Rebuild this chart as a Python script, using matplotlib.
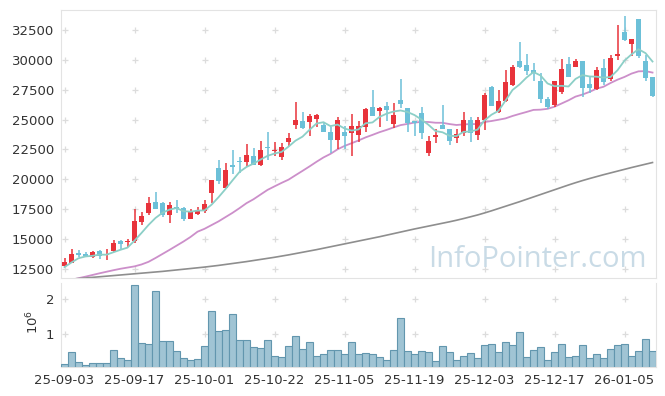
import matplotlib
matplotlib.use('Agg')
import matplotlib.pyplot as plt
import numpy as np

# trading days 25-09-03 .. 26-01-09
dates = ['25-09-03', '25-09-04', '25-09-05', '25-09-08', '25-09-09', '25-09-10', '25-09-11', '25-09-12',
         '25-09-15', '25-09-16', '25-09-17', '25-09-18', '25-09-19', '25-09-22', '25-09-23', '25-09-24',
         '25-09-25', '25-09-26', '25-09-29', '25-09-30', '25-10-01', '25-10-02', '25-10-10', '25-10-13',
         '25-10-14', '25-10-15', '25-10-16', '25-10-17', '25-10-20', '25-10-21', '25-10-22', '25-10-23',
         '25-10-24', '25-10-27', '25-10-28', '25-10-29', '25-10-30', '25-10-31', '25-11-03', '25-11-04',
         '25-11-05', '25-11-06', '25-11-07', '25-11-10', '25-11-11', '25-11-12', '25-11-13', '25-11-14',
         '25-11-17', '25-11-18', '25-11-19', '25-11-20', '25-11-21', '25-11-24', '25-11-25', '25-11-26',
         '25-11-27', '25-11-28', '25-12-01', '25-12-02', '25-12-03', '25-12-04', '25-12-05', '25-12-08',
         '25-12-09', '25-12-10', '25-12-11', '25-12-12', '25-12-15', '25-12-16', '25-12-17', '25-12-18',
         '25-12-19', '25-12-22', '25-12-23', '25-12-24', '25-12-26', '25-12-29', '25-12-30', '26-01-02',
         '26-01-05', '26-01-06', '26-01-07', '26-01-08', '26-01-09']

opens = [12750, 13030, 13850, 13750, 13500, 14000, 13650, 14000, 14870, 14730,
         14870, 16460, 17210, 18100, 18050, 17020, 17660, 17600, 16710, 17080,
         17330, 18830, 20950, 19300, 21200, 21560, 21450, 21920, 21230, 22710,
         22380, 21900, 23130, 24575, 24910, 24830, 25080, 24550, 23940, 23320,
         23960, 23900, 23740, 24410, 26060, 25750, 26140, 24660, 26640, 25970,
         24890, 25550, 22230, 23570, 24550, 24220, 23490, 23860, 24970, 23690,
         24970, 27730, 25670, 26580, 27900, 29900, 29570, 29130, 28230, 26730,
         26220, 27340, 29650, 29430, 29900, 27980, 27560, 29320, 28370, 30350,
         32330, 31350, 33420, 29930, 28570]
highs = [13400, 14170, 14070, 13920, 14000, 14090, 14200, 14930, 14900, 14980,
         17500, 17270, 18500, 18920, 18080, 18080, 18280, 17650, 17550, 17660,
         18280, 19980, 21620, 21370, 22430, 21870, 22930, 22650, 23190, 23940,
         23100, 23020, 23860, 26450, 25610, 25470, 25470, 24700, 24410, 25190,
         24470, 25470, 24890, 26000, 27480, 26080, 26500, 26360, 28400, 26000,
         24900, 26080, 23600, 24190, 26220, 24250, 24220, 25640, 25190, 25190,
         27200, 27810, 27480, 29130, 29570, 31470, 30490, 29740, 28880, 26870,
         28260, 30050, 30240, 30070, 29930, 28650, 29430, 30100, 30440, 32920,
         33670, 31770, 33430, 30440, 28600]
lows = [12640, 12980, 13500, 13480, 13450, 13310, 13250, 13950, 14050, 14370,
        14650, 16150, 16990, 17500, 16880, 16380, 17210, 16490, 16700, 17020,
        17160, 18050, 19590, 19250, 20480, 20560, 21010, 21200, 21120, 21600,
        21950, 21620, 22820, 24190, 24190, 23630, 24360, 23990, 22180, 22520,
        22570, 21960, 23150, 23960, 25300, 24360, 24910, 24320, 26000, 23940,
        23600, 23400, 21980, 23020, 24190, 22850, 23040, 23600, 23130, 23300,
        24130, 26170, 25530, 26500, 27850, 29350, 28730, 28200, 26420, 25890,
        26030, 27120, 28560, 29370, 26870, 27250, 27500, 27900, 28260, 29990,
        31580, 30320, 30160, 28230, 26920]
closes = [13090, 13750, 13650, 13600, 13920, 13590, 13730, 14680, 14620, 14820,
          16520, 16940, 18020, 17550, 17000, 17850, 17580, 16710, 17350, 17440,
          17940, 19950, 19840, 20780, 21060, 21480, 22040, 21230, 22460, 22620,
          22460, 22710, 23440, 24970, 24300, 25300, 25360, 23990, 23320, 24970,
          23660, 24470, 24470, 25890, 25330, 25970, 25810, 25390, 26330, 24690,
          24690, 23910, 23210, 23710, 24190, 23210, 23800, 24970, 23860, 24970,
          27090, 26170, 26580, 28150, 29400, 29400, 29070, 28880, 26730, 26060,
          28230, 29240, 28590, 29900, 27680, 27650, 29150, 28180, 30160, 30520,
          31690, 31750, 30350, 28510, 27010]
volumes = [160000, 490000, 210000, 130000, 190000, 190000, 190000, 570000, 330000, 270000,
           2370000, 750000, 720000, 2220000, 810000, 810000, 530000, 330000, 270000, 300000,
           670000, 1660000, 1090000, 1120000, 1570000, 840000, 840000, 640000, 610000, 840000,
           390000, 360000, 670000, 950000, 580000, 780000, 390000, 440000, 550000, 550000,
           440000, 780000, 440000, 470000, 440000, 360000, 270000, 550000, 1460000, 520000,
           440000, 520000, 500000, 240000, 670000, 500000, 270000, 390000, 470000, 330000,
           700000, 720000, 500000, 780000, 700000, 1060000, 360000, 550000, 640000, 270000,
           500000, 720000, 360000, 390000, 700000, 330000, 440000, 330000, 580000, 700000,
           720000, 390000, 520000, 860000, 520000]

# moving averages
ma5 = [12660, 13050, 13400, 13550, 13602, 13702, 13698, 13904, 14108, 14288,
       14874, 15516, 16184, 16770, 17206, 17472, 17600, 17338, 17298, 17386,
       17404, 17878, 18504, 19190, 19914, 20622, 21040, 21318, 21654, 21966,
       22162, 22296, 22738, 23240, 23576, 24144, 24674, 24784, 24454, 24588,
       24260, 24082, 24178, 24692, 24764, 25226, 25494, 25678, 25766, 25638,
       25382, 25002, 24566, 24042, 23942, 23646, 23624, 23976, 24006, 24162,
       24938, 25412, 25734, 26592, 27478, 27940, 28520, 28980, 28696, 28028,
       27794, 27828, 27770, 28404, 28728, 28612, 28594, 28512, 28564, 29132,
       29940, 30460, 30894, 30564, 29862]
ma20 = [11450, 11600, 11730, 11860, 12000, 12140, 12270, 12400, 12520, 12620,
        12720, 12880, 13100, 13420, 13760, 14100, 14450, 14800, 15180, 15620,
        15863, 16173, 16483, 16842, 17199, 17593, 18009, 18336, 18728, 19118,
        19415, 19704, 19975, 20346, 20711, 21083, 21472, 21836, 22135, 22511,
        22797, 23023, 23255, 23510, 23724, 23948, 24137, 24345, 24538, 24642,
        24753, 24813, 24802, 24739, 24733, 24629, 24551, 24600, 24627, 24627,
        24798, 24883, 24989, 25102, 25305, 25477, 25640, 25814, 25834, 25903,
        26080, 26346, 26615, 26925, 27099, 27321, 27589, 27749, 28064, 28342,
        28572, 28851, 29039, 29057, 28938]
ma120 = [11600, 11650, 11700, 11750, 11800, 11850, 11900, 11950, 12000, 12050,
         12100, 12150, 12200, 12250, 12300, 12360, 12420, 12480, 12540, 12600,
         12660, 12730, 12800, 12880, 12960, 13040, 13120, 13210, 13300, 13390,
         13480, 13580, 13680, 13790, 13900, 14010, 14120, 14240, 14360, 14480,
         14600, 14720, 14840, 14960, 15080, 15200, 15330, 15460, 15590, 15720,
         15850, 15970, 16090, 16210, 16330, 16450, 16580, 16720, 16870, 17020,
         17190, 17370, 17560, 17750, 17940, 18130, 18330, 18530, 18730, 18930,
         19130, 19330, 19530, 19720, 19900, 20070, 20230, 20390, 20540, 20690,
         20840, 20990, 21130, 21270, 21410]

price_ticks = [12500, 15000, 17500, 20000, 22500, 25000, 27500, 30000, 32500]

UP = '#e8333b'
DOWN = '#6cc0d8'
FRAME = '#e3e3e3'

plt.rcParams['font.family'] = 'DejaVu Sans'

fig = plt.figure(figsize=(6.65, 3.96), dpi=100)
ax = fig.add_axes([61 / 665, 1 - 278 / 396, 595 / 665, 268 / 396])
axv = fig.add_axes([61 / 665, 1 - 367 / 396, 595 / 665, 84 / 396])

x = np.arange(len(dates))
o = np.array(opens)
c = np.array(closes)
colors = [UP if cc >= oo else DOWN for oo, cc in zip(o, c)]

# candles
ax.vlines(x, lows, highs, colors=colors, linewidth=1.1, zorder=3)
body_low = np.minimum(o, c)
body_h = np.maximum(np.abs(c - o), 60)
ax.bar(x, body_h, bottom=body_low, width=0.58, color=colors, zorder=4)

ax.plot(x, ma5, color='#8ccfc7', lw=1.3, zorder=5)
ax.plot(x, ma20, color='#cc8fca', lw=1.3, zorder=2)
ax.plot(x, ma120, color='#8e8e8e', lw=1.2, zorder=2)

ax.set_xlim(-0.5, len(dates) - 0.5)
ax.set_ylim(11747, 34173)
ax.set_yticks(price_ticks)
ax.set_yticklabels([str(t) for t in price_ticks])

tick_pos = list(range(0, len(dates), 10))
ax.set_xticks(tick_pos)
ax.set_xticklabels([])

# grid drawn as small crosses
gx, gy = np.meshgrid(tick_pos, price_ticks)
ax.plot(gx.ravel(), gy.ravel(), '+', color='#dcdcdc', ms=4, mew=0.9, zorder=1)

ax.text(0.985, 0.041, 'InfoPointer.com', transform=ax.transAxes, ha='right', va='baseline',
        fontsize=21, color='#c9dbe6', family='Open Sans', zorder=6)

# volume
axv.bar(x, volumes, width=1.0, color='#a0c4d4', edgecolor='#6296ae', linewidth=0.8, zorder=3)
axv.set_xlim(-0.5, len(dates) - 0.5)
axv.set_ylim(80000, 2440000)
axv.set_yticks([1000000, 2000000])
axv.set_yticklabels(['1', '2'])
axv.set_xticks(tick_pos)
axv.set_xticklabels([dates[i] for i in tick_pos])
gx, gy = np.meshgrid(tick_pos, [1000000, 2000000])
axv.plot(gx.ravel(), gy.ravel(), '+', color='#dcdcdc', ms=4, mew=0.9, zorder=1)
fig.text(33 / 665, 1 - 322 / 396, '$10^6$', rotation=90, ha='center', va='center',
         fontsize=9.5, color='#333333')

for a in (ax, axv):
    for s in a.spines.values():
        s.set_color(FRAME)
    a.tick_params(length=0, labelsize=9.5, colors='#333333', pad=5)
axv.spines['top'].set_visible(False)

fig.savefig('out.png', dpi=100)
